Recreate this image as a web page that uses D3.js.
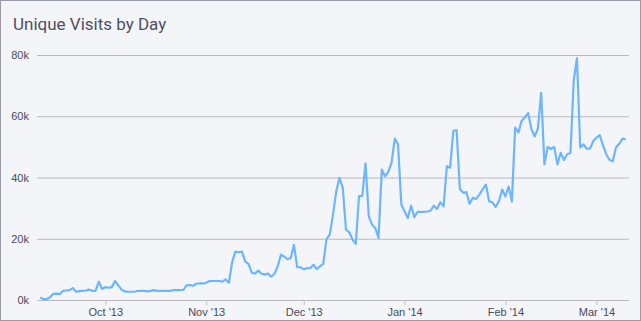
<!DOCTYPE html>
<html>
<head>
<meta charset="utf-8">
<script src="https://cdn.jsdelivr.net/npm/d3@7"></script>
<style>
  html, body { margin: 0; padding: 0; background: #f4f5f8; }
  svg { display: block; font-family: Roboto, "DejaVu Sans", sans-serif; }
</style>
</head>
<body>
<svg></svg>
<script>
const size = {w: 641, h: 321};
const margin = {t: 55, r: 12, b: 21, l: 37};

// first day of the series, one value per day after it (thousands of visits)
const startDay = '2013-09-11';
const visits = [
  0.8, 0.3, 0.3, 0.9, 2.0, 2.1, 1.9, 3.0, 3.1, 3.2,
  3.9, 2.7, 2.9, 3.0, 3.1, 3.4, 3.0, 3.0, 6.0, 3.6,
  4.2, 4.0, 4.2, 6.2, 4.8, 3.4, 2.8, 2.7, 2.7, 2.7,
  3.0, 3.0, 3.0, 2.8, 3.0, 3.2, 3.0, 3.0, 3.0, 3.0,
  3.0, 3.2, 3.2, 3.2, 3.3, 4.8, 4.9, 4.6, 5.3, 5.4,
  5.4, 5.6, 6.2, 6.2, 6.2, 6.2, 6.0, 6.7, 5.6, 12.4,
  15.8, 15.6, 15.8, 12.6, 11.8, 9.0, 8.6, 9.6, 8.6, 8.3,
  8.6, 7.6, 8.5, 11.0, 14.8, 14.2, 13.3, 13.7, 18.0, 10.7,
  10.7, 10.0, 10.4, 10.4, 11.5, 10.1, 11.0, 11.8, 19.9, 21.3,
  27.9, 35.5, 39.9, 36.6, 23.0, 22.1, 19.7, 18.3, 33.9, 34.0,
  44.6, 27.3, 24.6, 23.5, 20.2, 42.6, 40.4, 41.8, 44.8, 52.7,
  50.8, 31.2, 29.0, 26.8, 30.8, 27.0, 28.8, 28.8, 28.8, 28.9,
  29.2, 30.8, 29.7, 31.9, 30.6, 43.7, 43.2, 55.2, 55.5, 36.3,
  35.0, 35.2, 31.4, 33.4, 33.0, 34.4, 36.1, 37.7, 32.2, 31.9,
  30.4, 32.2, 36.1, 33.8, 37.0, 32.2, 56.3, 54.7, 58.5, 59.6,
  61.0, 55.8, 53.4, 56.0, 67.6, 44.3, 50.0, 49.3, 50.0, 44.3,
  48.1, 45.7, 47.6, 48.0, 71.6, 79.0, 49.8, 50.8, 49.4, 49.4,
  51.9, 53.0, 53.8, 50.5, 47.6, 45.7, 45.3, 49.8, 51.0, 52.7,
  52.4
];
const yTicks = [0, 20, 40, 60, 80];
const xTicks = ['2013-10-01', '2013-11-01', '2013-12-01', '2014-01-01', '2014-02-01', '2014-03-01'];
const xDomain = ['2013-09-10', '2014-03-11'];

const parse = d3.utcParse('%Y-%m-%d');
const first = parse(startDay);
const data = visits.map((v, i) => ({date: d3.utcDay.offset(first, i), value: v}));

const svg = d3.select('svg')
    .attr('width', size.w)
    .attr('height', size.h);

// card
svg.append('rect')
    .attr('x', 0.5).attr('y', 0.5)
    .attr('width', size.w - 1).attr('height', size.h - 1)
    .attr('fill', '#f4f5f8')
    .attr('stroke', '#9b9ba8');

svg.append('text')
    .attr('x', 13)
    .attr('y', 30)
    .attr('fill', '#4f4f63')
    .style('font-size', '17px')
    .text('Unique Visits by Day');

const x = d3.scaleUtc()
    .domain(xDomain.map(parse))
    .range([margin.l, size.w - margin.r]);

const y = d3.scaleLinear()
    .domain([0, 80])
    .range([size.h - margin.b, margin.t]);

// y grid + labels
const yAxis = d3.axisLeft(y)
    .tickValues(yTicks)
    .tickSize(-(size.w - margin.r - margin.l))
    .tickPadding(8)
    .tickFormat(d => d + 'k');

const yG = svg.append('g')
    .attr('transform', `translate(${margin.l},0)`)
    .call(yAxis);
yG.select('.domain').remove();
yG.selectAll('line').attr('stroke', '#b9b9c0');
yG.selectAll('text')
    .attr('fill', '#4a4a5c')
    .style('font-size', '11px');

// x ticks + labels
const xAxis = d3.axisBottom(x)
    .tickValues(xTicks.map(parse))
    .tickSize(5)
    .tickPadding(3)
    .tickFormat(d3.utcFormat("%b '%y"));

const xG = svg.append('g')
    .attr('transform', `translate(0,${size.h - margin.b})`)
    .call(xAxis);
xG.select('.domain').remove();
xG.selectAll('line').attr('stroke', '#c4c4cc');
xG.selectAll('text')
    .attr('fill', '#4a4a5c')
    .style('font-size', '11px');

// the line
const line = d3.line()
    .x(d => x(d.date))
    .y(d => y(d.value));

svg.append('path')
    .datum(data)
    .attr('fill', 'none')
    .attr('stroke', '#6cb5ff')
    .attr('stroke-width', 2.2)
    .attr('stroke-linejoin', 'round')
    .attr('d', line);
</script>
</body>
</html>
